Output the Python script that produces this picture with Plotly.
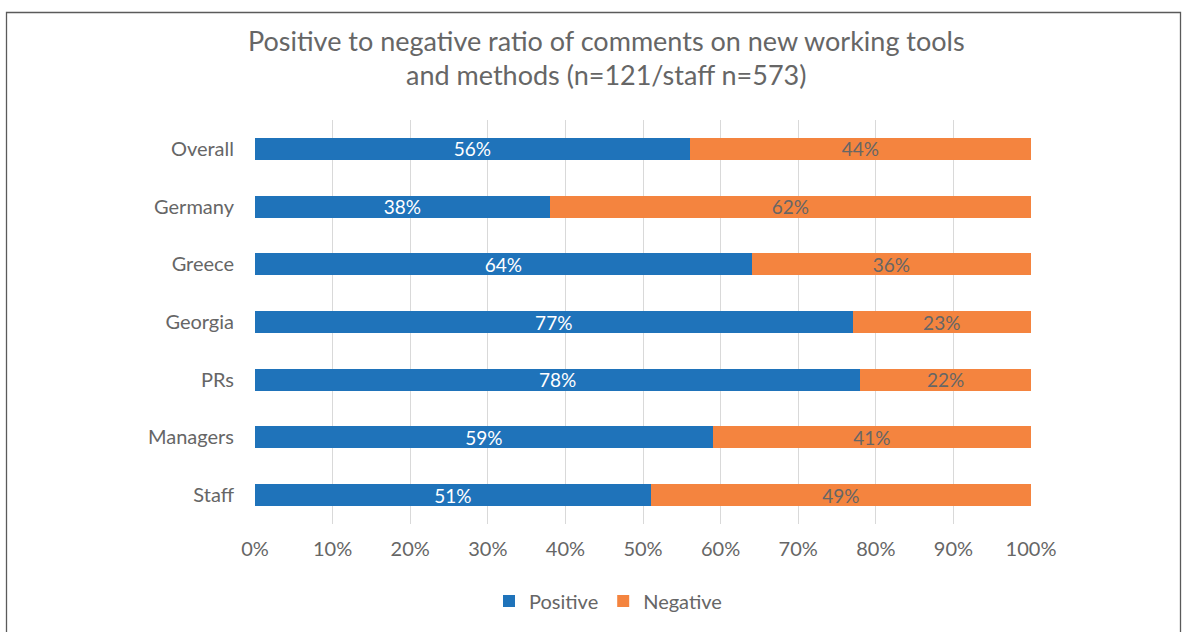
import plotly.graph_objects as go

categories = ["Overall", "Germany", "Greece", "Georgia", "PRs", "Managers", "Staff"]
positive = [56, 38, 64, 77, 78, 59, 51]
negative = [44, 62, 36, 23, 22, 41, 49]
x_ticks = list(range(0, 101, 10))
x_tick_labels = [f"{v}%" for v in x_ticks]

BLUE = "#1F73BA"
ORANGE = "#F4843F"
GREY = "#666666"
FONT = "Lato, 'Open Sans', sans-serif"

# plot area in pixels
W, H = 1187, 632
L, R, T, B = 255, 1031, 120, 524
pw, ph = R - L, B - T


def px_x(x):
    return (x - L) / pw


def px_y(y):
    return (B - y) / ph


fig = go.Figure()
fig.add_trace(go.Bar(
    y=categories, x=positive, name="Positive", orientation="h",
    marker=dict(color=BLUE, line=dict(width=0)),
    text=[f"{v}%" for v in positive], textposition="inside",
    insidetextanchor="middle", textangle=0,
    textfont=dict(color="white", size=19, family=FONT),
))
fig.add_trace(go.Bar(
    y=categories, x=negative, name="Negative", orientation="h",
    marker=dict(color=ORANGE, line=dict(width=0)),
    text=[f"{v}%" for v in negative], textposition="inside",
    insidetextanchor="middle", textangle=0,
    textfont=dict(color=GREY, size=19, family=FONT),
))

fig.update_layout(
    width=W, height=H,
    barmode="stack", bargap=0.62,
    margin=dict(l=L, r=W - R, t=T, b=H - B, autoexpand=False),
    paper_bgcolor="white", plot_bgcolor="white",
    font=dict(family=FONT, color=GREY, size=20),
    uniformtext=dict(minsize=19, mode="show"),
    xaxis=dict(
        range=[0, 100], tickvals=x_ticks, ticktext=x_tick_labels,
        showgrid=True, gridcolor="#D9D9D9", gridwidth=1,
        zeroline=False, showline=False, ticks="",
        ticklabelstandoff=11,
        tickfont=dict(size=20, color=GREY, family=FONT),
    ),
    yaxis=dict(
        autorange="reversed", showgrid=False, showline=False, ticks="",
        ticklabelstandoff=20,
        tickfont=dict(size=20, color=GREY, family=FONT),
    ),
    legend=dict(
        orientation="h", x=px_x(608), xanchor="center",
        y=px_y(601), yanchor="middle",
        font=dict(size=20, color=GREY, family=FONT),
        itemwidth=30, traceorder="normal",
    ),
    showlegend=True,
)

# title lines
fig.add_annotation(
    text="Positive to negative ratio of comments on new working tools",
    xref="paper", yref="paper", x=px_x(606), y=px_y(40),
    xanchor="center", yanchor="middle", showarrow=False,
    font=dict(size=27, color=GREY, family=FONT),
)
fig.add_annotation(
    text="and methods (n=121/staff n=573)",
    xref="paper", yref="paper", x=px_x(606), y=px_y(75),
    xanchor="center", yanchor="middle", showarrow=False,
    font=dict(size=27, color=GREY, family=FONT),
)

# chart frame
fig.add_shape(
    type="rect", xref="paper", yref="paper",
    x0=px_x(6.5), x1=px_x(1180.5), y0=px_y(700), y1=px_y(12.5),
    line=dict(color="#5A5A5A", width=1.3), fillcolor="rgba(0,0,0,0)",
    layer="below",
)

fig.write_html("out.html")
